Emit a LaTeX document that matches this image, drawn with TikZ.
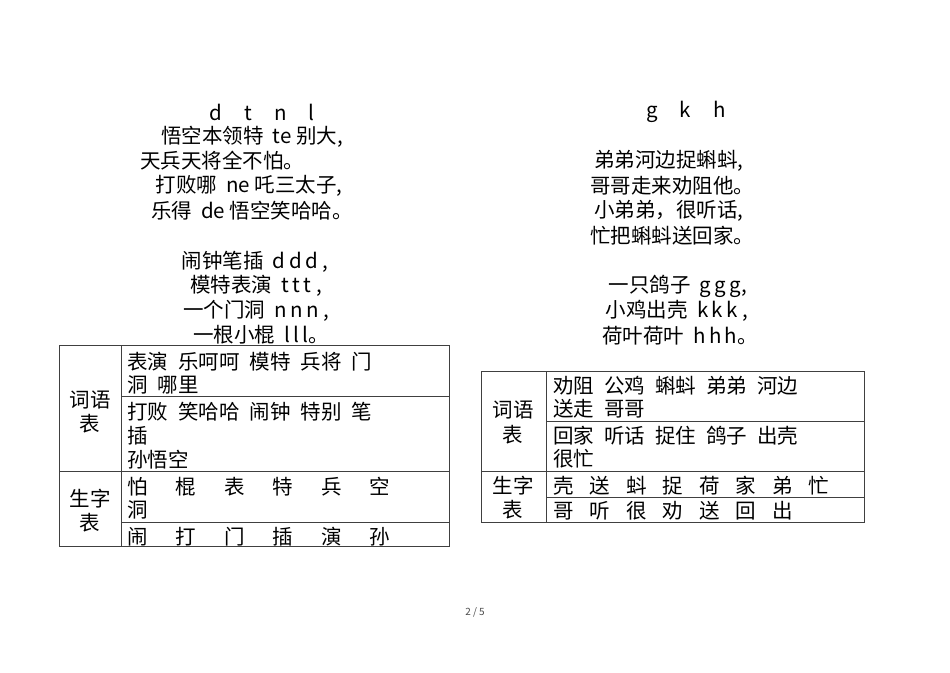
\documentclass[tikz,border=0pt]{standalone}
\usepackage{fontspec}
\setmainfont{Noto Sans CJK SC}
\newcommand{\gp}{\hspace{10pt}}
\newcommand{\gq}{\hspace{28pt}}
\newcommand{\gr}{\hspace{16pt}}
\begin{document}
\begin{tikzpicture}[x=1pt,y=-1pt,
  t/.style={inner sep=0pt,font=\fontsize{20.5}{22}\selectfont},
  c/.style={t,anchor=west},
  g/.style={line width=0.8pt,draw=black!75}]
\useasboundingbox (0,0) rectangle (950,672);
% left poem
\node[t] (l0) at (262,112) {d\hspace{22pt}t\hspace{22pt}n\hspace{22pt}l};
\node[t] (l1) at (252,137) {悟空本领特 \ te 别大,};
\node[t] (l2) at (222,161) {天兵天将全不怕。};
\node[t] (l3) at (249,186) {打败哪 \ ne 吒三太子,};
\node[t] (l4) at (252,211) {乐得 \ de 悟空笑哈哈。};
\node[t] (l5) at (255,262) {闹钟笔插 \ d\,d\,d ,};
\node[t] (l6) at (256,286) {模特表演 \ t\,t\,t ,};
\node[t] (l7) at (256,311) {一个门洞 \ n\,n\,n ,};
\node[t] (l8) at (261,335) {一根小棍 \ l\,l\,l。};
% right poem
\node[t] (r0) at (686,112) {g\hspace{22pt}k\hspace{22pt}h};
\node[t] (r1) at (669,161) {弟弟河边捉蝌蚪,};
\node[t] (r2) at (672,186) {哥哥走来劝阻他。};
\node[t] (r3) at (669,211) {小弟弟，很听话,};
\node[t] (r4) at (672,236) {忙把蝌蚪送回家。};
\node[t] (r5) at (678,286) {一只鸽子 \ g\,g\,g,};
\node[t] (r6) at (677,311) {小鸡出壳 \ k\,k\,k ,};
\node[t] (r7) at (680,336) {荷叶荷叶 \ h\,h\,h。};
% left table
\draw[g] (59,345) rectangle (449,546);
\draw[g] (121,345) -- (121,546);
\draw[g] (121,396) -- (449,396);
\draw[g] (59,471) -- (449,471);
\draw[g] (121,522) -- (449,522);
\node[t] (h1) at (90,400) {词语};
\node[t] (h2) at (90,424) {表};
\node[t] (h3) at (90,499) {生字};
\node[t] (h4) at (90,523) {表};
\node[c] (a1) at (127,362) {表演\gp 乐呵呵\gp 模特\gp 兵将\gp 门};
\node[c] (a2) at (127,385) {洞\gp 哪里};
\node[c] (a3) at (127,412) {打败\gp 笑哈哈\gp 闹钟\gp 特别\gp 笔};
\node[c] (a4) at (127,436) {插};
\node[c] (a5) at (127,460) {孙悟空};
\node[c] (a6) at (127,487) {怕\gq 棍\gq 表\gq 特\gq 兵\gq 空};
\node[c] (a7) at (127,510) {洞};
\node[c] (a8) at (127,537) {闹\gq 打\gq 门\gq 插\gq 演\gq 孙};
% right table
\draw[g] (481,371) rectangle (864,522);
\draw[g] (546,371) -- (546,522);
\draw[g] (546,421) -- (864,421);
\draw[g] (481,471) -- (864,471);
\draw[g] (546,497) -- (864,497);
\node[t] (k1) at (513,410) {词语};
\node[t] (k2) at (513,435) {表};
\node[t] (k3) at (513,486) {生字};
\node[t] (k4) at (513,510) {表};
\node[c] (b1) at (553,386) {劝阻\gp 公鸡\gp 蝌蚪\gp 弟弟\gp 河边};
\node[c] (b2) at (553,409) {送走\gp 哥哥};
\node[c] (b3) at (553,436) {回家\gp 听话\gp 捉住\gp 鸽子\gp 出壳};
\node[c] (b4) at (553,459) {很忙};
\node[c] (b5) at (553,486) {壳\gr 送\gr 蚪\gr 捉\gr 荷\gr 家\gr 弟\gr 忙};
\node[c] (b6) at (553,511) {哥\gr 听\gr 很\gr 劝\gr 送\gr 回\gr 出};
\node[t,font=\fontsize{10}{11}\selectfont,text=black!70] (pg) at (475,612) {2 / 5};
\end{tikzpicture}
\end{document}
